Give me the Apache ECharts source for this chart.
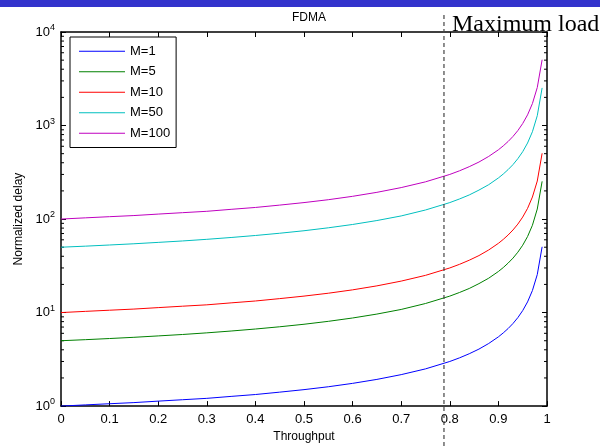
<!DOCTYPE html>
<html>
<head>
<meta charset="utf-8">
<script src="https://cdn.jsdelivr.net/npm/echarts@6/dist/echarts.min.js"></script>
<style>
  html, body { margin: 0; padding: 0; background: #fff; }
  #chart { width: 600px; height: 448px; }
</style>
</head>
<body>
<div id="chart"></div>
<script>
// throughput samples (x)
const throughput = [0, 0.05, 0.1, 0.15, 0.2, 0.25, 0.3, 0.35, 0.4, 0.45, 0.5, 0.55, 0.6, 0.65, 0.7, 0.75, 0.8, 0.82, 0.84, 0.86, 0.88, 0.9, 0.91, 0.92, 0.93, 0.94, 0.95, 0.96, 0.97, 0.98, 0.99];
// normalized delay, one array per M
const delayM1   = [1, 1.03, 1.06, 1.09, 1.13, 1.17, 1.21, 1.27, 1.33, 1.41, 1.5, 1.61, 1.75, 1.93, 2.17, 2.5, 3.0, 3.28, 3.63, 4.07, 4.67, 5.5, 6.06, 6.75, 7.64, 8.83, 10.5, 13, 17.2, 25.5, 50.5];
const delayM5   = [5, 5.13, 5.28, 5.44, 5.63, 5.83, 6.07, 6.35, 6.67, 7.05, 7.5, 8.06, 8.75, 9.64, 10.8, 12.5, 15, 16.4, 18.1, 20.4, 23.3, 27.5, 30.3, 33.8, 38.2, 44.2, 52.5, 65, 85.8, 128, 253];
const delayM10  = [10, 10.3, 10.6, 10.9, 11.3, 11.7, 12.1, 12.7, 13.3, 14.1, 15, 16.1, 17.5, 19.3, 21.7, 25, 30, 32.8, 36.3, 40.7, 46.7, 55, 60.6, 67.5, 76.4, 88.3, 105, 130, 172, 255, 505];
const delayM50  = [50, 51.3, 52.8, 54.4, 56.3, 58.3, 60.7, 63.5, 66.7, 70.5, 75, 80.6, 87.5, 96.4, 108, 125, 150, 164, 181, 204, 233, 275, 303, 338, 382, 442, 525, 650, 858, 1275, 2525];
const delayM100 = [100, 103, 106, 109, 113, 117, 121, 127, 133, 141, 150, 161, 175, 193, 217, 250, 300, 328, 363, 407, 467, 550, 606, 675, 764, 883, 1050, 1300, 1717, 2550, 5050];

const seriesNames = ['M=1', 'M=5', 'M=10', 'M=50', 'M=100'];
const seriesColors = ['#0000ff', '#008000', '#ff0000', '#00bfbf', '#bf00bf'];
const seriesData = [delayM1, delayM5, delayM10, delayM50, delayM100];
const maxLoad = 0.788;

// minor ticks for the log axis (2..9 in each decade)
const minorTicks = [];
for (let d = 1; d < 10000; d *= 10) {
  for (let k = 2; k <= 9; k++) minorTicks.push(k * d);
}

const font = 'Liberation Sans, Arial, sans-serif';
const chart = echarts.init(document.getElementById('chart'));

const lineSeries = seriesNames.map((name, i) => ({
  name: name,
  type: 'line',
  symbol: 'none',
  data: throughput.map((x, j) => [x, seriesData[i][j]]),
  lineStyle: { color: seriesColors[i], width: 1 },
  itemStyle: { color: seriesColors[i] },
  z: 3
}));

function expLabel(v) {
  const e = Math.round(Math.log10(v));
  return '{b|10}{s|' + e + '}';
}

chart.setOption({
  animation: false,
  title: {
    text: 'FDMA',
    left: 304, top: 7, textAlign: 'center',
    textStyle: { fontFamily: font, fontSize: 12, fontWeight: 'normal', color: '#000' }
  },
  grid: { left: 61, right: 53, top: 32, bottom: 40 },
  legend: {
    data: seriesNames,
    orient: 'vertical',
    left: 70, top: 37,
    padding: [7, 6, 7, 9],
    icon: 'rect',
    itemWidth: 46, itemHeight: 1.2, itemGap: 6,
    borderColor: '#000', borderWidth: 1,
    backgroundColor: '#fff',
    textStyle: { fontFamily: font, fontSize: 13, color: '#000', lineHeight: 14.5 }
  },
  xAxis: [{
    type: 'value', min: 0, max: 1, interval: 0.1,
    name: 'Throughput', nameLocation: 'middle', nameGap: 23,
    nameTextStyle: { fontFamily: font, fontSize: 12, color: '#000' },
    axisLine: { onZero: false, lineStyle: { color: '#000', width: 1.5 } },
    axisTick: { inside: true, length: 5, lineStyle: { color: '#000' } },
    axisLabel: { fontFamily: font, fontSize: 13, color: '#000', margin: 7,
      formatter: v => String(Math.round(v * 10) / 10) },
    splitLine: { show: false }
  }, {
    type: 'value', min: 0, max: 1, interval: 0.1, position: 'top',
    axisLine: { onZero: false, lineStyle: { color: '#000', width: 1.5 } },
    axisTick: { inside: true, length: 5, lineStyle: { color: '#000' } },
    axisLabel: { show: false },
    splitLine: { show: false }
  }],
  yAxis: [{
    type: 'log', logBase: 10, min: 1, max: 10000,
    name: 'Normalized delay', nameLocation: 'middle', nameGap: 34,
    nameTextStyle: { fontFamily: font, fontSize: 12, color: '#000' },
    axisLine: { show: true, onZero: false, lineStyle: { color: '#000', width: 1.5 } },
    axisTick: { inside: true, length: 5, lineStyle: { color: '#000' } },
    axisLabel: {
      fontFamily: font, color: '#000', margin: 6,
      formatter: expLabel,
      rich: {
        b: { fontFamily: font, fontSize: 13, color: '#000' },
        s: { fontFamily: font, fontSize: 9, color: '#000', verticalAlign: 'bottom', padding: [0, 0, 9, 0] }
      }
    },
    splitLine: { show: false }
  }, {
    type: 'log', logBase: 10, min: 1, max: 10000, position: 'right',
    axisLine: { show: true, onZero: false, lineStyle: { color: '#000', width: 1.5 } },
    axisTick: { inside: true, length: 5, lineStyle: { color: '#000' } },
    axisLabel: { show: false },
    splitLine: { show: false }
  }],
  series: lineSeries.concat([{
    name: 'minor',
    type: 'custom',
    silent: true,
    data: minorTicks,
    renderItem: function (params, api) {
      const v = api.value(0);
      const l = api.coord([0, v]);
      const r = api.coord([1, v]);
      const st = { stroke: '#000', lineWidth: 1 };
      return {
        type: 'group',
        children: [
          { type: 'line', shape: { x1: l[0], y1: l[1], x2: l[0] + 3, y2: l[1] }, style: st },
          { type: 'line', shape: { x1: r[0] - 3, y1: r[1], x2: r[0], y2: r[1] }, style: st }
        ]
      };
    },
    encode: { y: 0 },
    z: 2
  }, {
    name: 'maxload',
    type: 'custom',
    silent: true,
    clip: false,
    data: [[maxLoad, 1]],
    renderItem: function (params, api) {
      const p = api.coord([api.value(0), api.value(1)]);
      return {
        type: 'line',
        shape: { x1: p[0], y1: 15, x2: p[0], y2: 448 },
        style: { stroke: '#444', lineWidth: 1.2, lineDash: [4, 3] }
      };
    },
    z: 4
  }]),
  graphic: [
    { type: 'rect', left: 0, top: 0, shape: { width: 600, height: 7 }, style: { fill: '#3333cc' } },
    { type: 'text', left: 452, top: 13, z: 10,
      style: { text: 'Maximum load', font: '24px "Liberation Serif", "Times New Roman", serif', fill: '#000' } }
  ]
});
</script>
</body>
</html>
